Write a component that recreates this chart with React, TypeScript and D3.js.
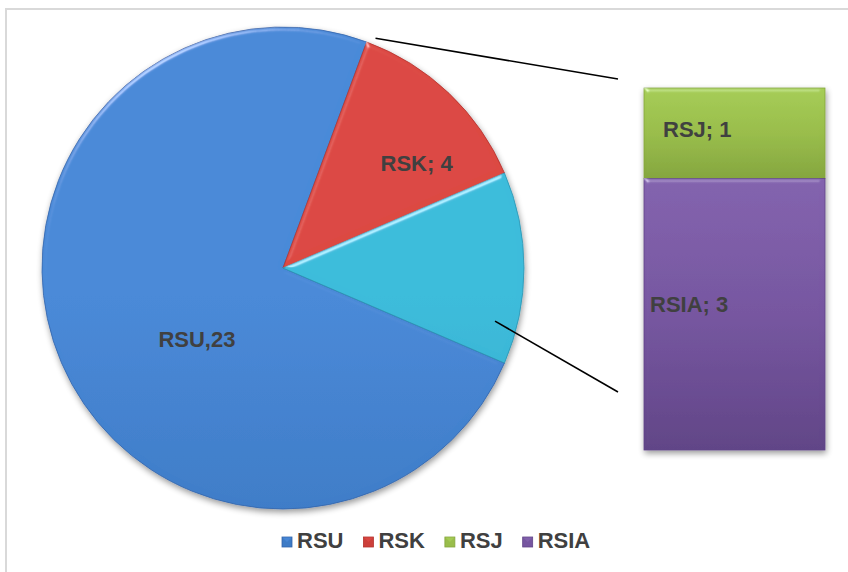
import React from "react";
import * as d3 from "d3";

const pieCategories = ["RSU", "RSK", "Other"];
const pieValues = [23, 4];
const barCategories = ["RSJ", "RSIA"];
const barValues = [1, 3];
const legendLabels = ["RSU", "RSK", "RSJ", "RSIA"];
const pieLabels = ["RSU,23", "RSK; 4"];
const barLabels = ["RSJ; 1", "RSIA; 3"];

const W = 848;
const H = 572;
const FONT = "'Liberation Sans', Arial, sans-serif";
const TEXT = "#404040";

const colors: Record<string, [string, string, string]> = {
  RSU: ["#4a8ad8", "#3d7bc6", "#3465ab"],
  RSK: ["#dc4843", "#cc3f3a", "#b3332e"],
  Other: ["#3dbcdb", "#34aacc", "#2b94b2"],
  RSJ: ["#a6cd56", "#99bd4b", "#85a63e"],
  RSIA: ["#8363ae", "#7656a0", "#614587"],
};

export default function App() {
  const cx = 283;
  const cy = 268;
  const r = 241;
  const otherTotal = d3.sum(barValues);
  const pieData = [...pieValues, otherTotal];
  const total = d3.sum(pieData);
  const otherAngle = (otherTotal / total) * 2 * Math.PI;
  const start = Math.PI / 2 + otherAngle / 2;
  const pie = d3.pie<number>().sort(null).startAngle(start).endAngle(start + 2 * Math.PI);
  const arcs = pie(pieData);
  const arcGen = d3.arc<d3.PieArcDatum<number>>().innerRadius(0).outerRadius(r);

  // bar
  const barX0 = 644;
  const barX1 = 825;
  const y = d3.scaleLinear().domain([0, otherTotal]).range([88, 450]);
  let acc = 0;
  const bars = barValues.map((v, i) => {
    const b = { name: barCategories[i], v, y0: y(acc), y1: y(acc + v) };
    acc += v;
    return b;
  });

  const polar = (ang: number, rad: number): [number, number] => [
    cx + rad * Math.sin(ang),
    cy - rad * Math.cos(ang),
  ];

  // connector lines
  const otherArc = arcs[2];
  const rskArc = arcs[1];
  const topStart = polar(rskArc.startAngle + 0.028, r * 1.028);
  const botStart = polar(otherArc.endAngle - 0.16, r * 0.907);
  const connX = barX0 - 26;
  const topEnd: [number, number] = [connX, y(0) - 9];
  const botEnd: [number, number] = [connX, y(otherTotal) - 58];

  // label positions
  const rsuMid = (arcs[0].startAngle + arcs[0].endAngle) / 2;
  const rskMid = (arcs[1].startAngle + arcs[1].endAngle) / 2;
  const rsuPos = polar(rsuMid - 0.29, r * 0.465);
  const rskPos = polar(rskMid + 0.145, r * 0.705);

  // legend
  const legendX = 282;
  const legendY = 548;
  const fontSize = 22;
  const approxW = (s: string) => {
    const w: Record<string, number> = { R: 722, S: 667, U: 722, K: 722, J: 556, I: 278, A: 722 };
    return (s.split("").reduce((a, c) => a + (w[c] || 600), 0) / 1000) * fontSize;
  };
  let lx = legendX;
  const legendItems = legendLabels.map((l) => {
    const item = { l, x: lx };
    lx += 15 + approxW(l) + 20;
    return item;
  });

  const grads = Object.entries(colors);

  return (
    <svg
      width={W}
      height={H}
      style={{ position: "absolute", left: 0, top: 0, display: "block", background: "#fff" }}
    >
      <defs>
        {grads.map(([k, c]) => (
          <linearGradient key={k} id={`g-${k}`} x1="0" y1="0" x2="0" y2="1">
            <stop offset="0%" stopColor={c[0]} />
            <stop offset="50%" stopColor={c[1]} />
            <stop offset="100%" stopColor={c[2]} />
          </linearGradient>
        ))}
        {grads.map(([k, c]) => (
          <linearGradient key={k + "p"} id={`gp-${k}`} gradientUnits="userSpaceOnUse" x1="0" y1={cy - r} x2="0" y2={cy + r}>
            <stop offset="0%" stopColor={c[0]} />
            <stop offset="50%" stopColor={c[1]} />
            <stop offset="100%" stopColor={c[2]} />
          </linearGradient>
        ))}
        <filter id="bevel" x="-5%" y="-5%" width="110%" height="110%">
          <feGaussianBlur in="SourceAlpha" stdDeviation="2.5" result="blur" />
          <feSpecularLighting
            in="blur"
            surfaceScale="3"
            specularConstant="0.8"
            specularExponent="40"
            lightingColor="#ffffff"
            result="spec"
          >
            <feDistantLight azimuth="240" elevation="30" />
          </feSpecularLighting>
          <feComposite in="spec" in2="SourceAlpha" operator="in" result="specOut" />
          <feComposite in="SourceGraphic" in2="specOut" operator="arithmetic" k1="0" k2="1" k3="0.5" k4="0" />
        </filter>
        <filter id="shadow" x="-10%" y="-10%" width="125%" height="125%">
          <feGaussianBlur in="SourceAlpha" stdDeviation="3" />
          <feOffset dx="1" dy="3" result="ob" />
          <feComponentTransfer>
            <feFuncA type="linear" slope="0.4" />
          </feComponentTransfer>
          <feMerge>
            <feMergeNode />
            <feMergeNode in="SourceGraphic" />
          </feMerge>
        </filter>
      </defs>

      <rect x={6} y={9} width={W + 20} height={H + 20} fill="#fff" stroke="#d9d9d9" strokeWidth={2} />

      {/* pie */}
      <g filter="url(#shadow)">
        <g transform={`translate(${cx},${cy})`}>
          {arcs.map((a, i) => (
            <path
              key={pieCategories[i]}
              d={arcGen(a) || ""}
              fill={`url(#gp-${pieCategories[i]})`}
              stroke={colors[pieCategories[i]][2]}
              strokeWidth={0.8}
              filter="url(#bevel)"
            />
          ))}
        </g>
      </g>

      {/* bar */}
      <g filter="url(#shadow)">
        {bars.map((b) => (
          <rect
            key={b.name}
            x={barX0}
            y={b.y0}
            width={barX1 - barX0}
            height={b.y1 - b.y0}
            fill={`url(#g-${b.name})`}
            stroke={colors[b.name][2]}
            strokeWidth={0.8}
            filter="url(#bevel)"
          />
        ))}
      </g>

      {/* connectors */}
      <line x1={topStart[0]} y1={topStart[1]} x2={topEnd[0]} y2={topEnd[1]} stroke="#000" strokeWidth={1.6} />
      <line x1={botStart[0]} y1={botStart[1]} x2={botEnd[0]} y2={botEnd[1]} stroke="#000" strokeWidth={1.6} />

      {/* labels */}
      <g fontFamily={FONT} fontWeight="bold" fontSize={fontSize} fill={TEXT}>
        <text x={rsuPos[0]} y={rsuPos[1] + 7.5} textAnchor="middle">{pieLabels[0]}</text>
        <text x={rskPos[0]} y={rskPos[1] + 7.5} textAnchor="middle">{pieLabels[1]}</text>
        <text x={barX0 + 19} y={(bars[0].y0 + bars[0].y1) / 2 + 4}>{barLabels[0]}</text>
        <text x={barX0 + 6} y={(bars[1].y0 + bars[1].y1) / 2 - 2}>{barLabels[1]}</text>
      </g>

      {/* legend */}
      <g fontFamily={FONT} fontWeight="bold" fontSize={fontSize} fill={TEXT}>
        {legendItems.map((it) => {
          const c = colors[it.l];
          return (
            <g key={it.l}>
              <rect x={it.x} y={legendY - 11} width={10} height={10} fill={c[1]} stroke={c[2]} strokeWidth={0.8} />
              <path
                d={`M${it.x + 0.5},${legendY - 10.5} L${it.x + 9.5},${legendY - 10.5} L${it.x + 5},${legendY - 6} Z`}
                fill={c[0]}
                opacity={0.8}
              />
              <text x={it.x + 15} y={legendY}>{it.l}</text>
            </g>
          );
        })}
      </g>
    </svg>
  );
}
